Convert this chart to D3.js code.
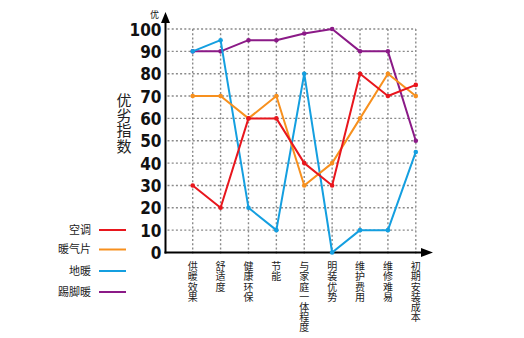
<!DOCTYPE html>
<html>
<head>
<meta charset="utf-8">
<script src="https://cdn.jsdelivr.net/npm/d3@7"></script>
<style>
  html, body { margin: 0; padding: 0; background: #fff; }
  svg { display: block; }
  .vt { writing-mode: vertical-rl; text-orientation: upright; }
</style>
</head>
<body>
<svg id="chart" width="524" height="338"></svg>
<script>
const categories = ["供暖效果", "舒适度", "健康环保", "节能", "与家庭一体程度", "明装优势", "维护费用", "维修难易", "初期安装成本"];
const seriesNames = ["空调", "暖气片", "地暖", "踢脚暖"];
const airCon = [30, 20, 60, 60, 40, 30, 80, 70, 75];
const radiator = [70, 70, 60, 70, 30, 40, 60, 80, 70];
const floorHeat = [90, 95, 20, 10, 80, 0, 10, 10, 45];
const skirting = [90, 90, 95, 95, 98, 100, 90, 90, 50];
const yTicks = [0, 10, 20, 30, 40, 50, 60, 70, 80, 90, 100];
const colors = ["#e8161d", "#f7901e", "#149fe0", "#8b1a87"];

const series = [
  { name: seriesNames[0], values: airCon, color: colors[0] },
  { name: seriesNames[1], values: radiator, color: colors[1] },
  { name: seriesNames[2], values: floorHeat, color: colors[2] },
  { name: seriesNames[3], values: skirting, color: colors[3] }
];

const svg = d3.select("#chart");
const axisX = 165.5, axisY = 252.5;
const x = d3.scalePoint().domain(categories).range([192.7, 415.8]);
const y = d3.scaleLinear().domain([0, 100]).range([252.5, 29]);
const cjk = "'Noto Sans CJK SC', sans-serif";

// gridlines
const grid = svg.append("g").attr("stroke", "#8a8a8a").attr("stroke-width", 1.4).attr("stroke-dasharray", "2,2.2");
grid.selectAll(".h").data(yTicks.filter(d => d > 0)).join("line")
  .attr("x1", axisX + 2).attr("x2", x(categories[categories.length - 1]))
  .attr("y1", d => y(d)).attr("y2", d => y(d));
grid.selectAll(".v").data(categories).join("line")
  .attr("x1", d => x(d)).attr("x2", d => x(d))
  .attr("y1", y(100)).attr("y2", axisY + 3);

// y tick labels
const yAxis = svg.append("g").attr("transform", `translate(${axisX - 4},0)`)
  .call(d3.axisLeft(y).tickValues(yTicks).tickSize(0).tickPadding(0));
yAxis.select(".domain").remove();
yAxis.selectAll("text")
  .attr("font-family", "'Liberation Sans Narrow', 'DejaVu Sans Condensed', sans-serif")
  .attr("font-weight", "bold").attr("font-size", "17px").attr("fill", "#111")
  .attr("dy", "0.36em");

// axes lines
svg.append("line").attr("x1", axisX).attr("x2", axisX).attr("y1", axisY + 1).attr("y2", 20)
  .attr("stroke", "#000").attr("stroke-width", 2);
svg.append("path").attr("d", `M${axisX},12 L${axisX - 4.5},23 L${axisX + 4.5},23 Z`).attr("fill", "#000");
svg.append("line").attr("x1", axisX - 1).attr("x2", 424).attr("y1", axisY).attr("y2", axisY)
  .attr("stroke", "#000").attr("stroke-width", 2);
svg.append("path").attr("d", `M433,${axisY} L421,${axisY - 4.5} L421,${axisY + 4.5} Z`).attr("fill", "#000");

// small label at top of y axis
svg.append("text").attr("x", 154.5).attr("y", 14.5).attr("dy", "0.36em").attr("text-anchor", "middle")
  .attr("font-family", cjk).attr("font-size", "9px").attr("fill", "#111").text("优");

// y title (vertical)
svg.append("text").attr("class", "vt")
  .attr("x", 124).attr("y", 92.5)
  .attr("font-family", cjk).attr("font-size", "15px").attr("fill", "#222")
  .attr("letter-spacing", "0.3px")
  .text("优劣指数");

// x labels (vertical)
svg.append("g").selectAll("text").data(categories).join("text")
  .attr("class", "vt")
  .attr("x", d => x(d)).attr("y", 261.5)
  .attr("font-family", cjk).attr("font-size", "10px").attr("fill", "#222")
  .attr("letter-spacing", "0.2px")
  .text(d => d);

// lines
const line = d3.line().x((d, i) => x(categories[i])).y(d => y(d));
const drawOrder = [3, 2, 1, 0];
drawOrder.forEach(k => {
  const s = series[k];
  const g = svg.append("g");
  g.append("path").attr("d", line(s.values)).attr("fill", "none")
    .attr("stroke", s.color).attr("stroke-width", 2).attr("stroke-linejoin", "round");
  g.selectAll("circle").data(s.values).join("circle")
    .attr("cx", (d, i) => x(categories[i])).attr("cy", d => y(d)).attr("r", 2.3).attr("fill", s.color);
});

// legend
const legendY = [230, 249.5, 271, 292];
const lg = svg.append("g");
series.forEach((s, i) => {
  lg.append("text").attr("x", 91).attr("y", legendY[i]).attr("dy", "0.36em").attr("text-anchor", "end")
    .attr("font-family", cjk).attr("font-size", "11px").attr("fill", "#222").text(s.name);
  lg.append("line").attr("x1", 99).attr("x2", 126).attr("y1", legendY[i]).attr("y2", legendY[i])
    .attr("stroke", s.color).attr("stroke-width", 2);
});
</script>
</body>
</html>
